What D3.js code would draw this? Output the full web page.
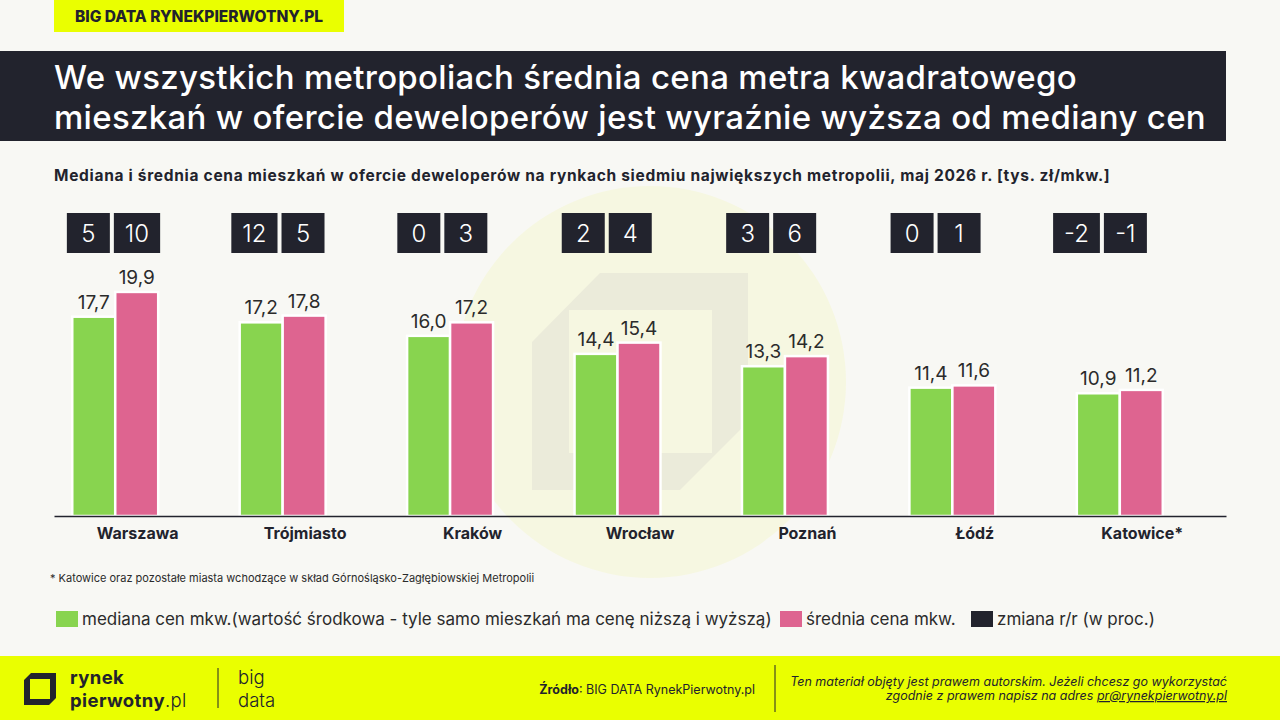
<!DOCTYPE html>
<html lang="pl">
<head>
  <meta charset="UTF-8">
  <style>
    html, body { margin: 0; padding: 0; background: #f8f8f4; }
    svg { display: block; font-family: Inter, "Open Sans", sans-serif; }
  </style>
  <script src="https://d3js.org/d3.v7.min.js"></script>
</head>
<body>
  <svg id="chart" width="1280" height="720"></svg>

  <script>
    // data
    const cities = ["Warszawa", "Trójmiasto", "Kraków", "Wrocław", "Poznań", "Łódź", "Katowice*"];
    const medianPrice = [17.7, 17.2, 16.0, 14.4, 13.3, 11.4, 10.9];
    const meanPrice = [19.9, 17.8, 17.2, 15.4, 14.2, 11.6, 11.2];
    const changeMedian = [5, 12, 0, 2, 3, 0, -2];
    const changeMean = [10, 5, 3, 4, 6, 1, -1];
    const legendLabels = [
      "mediana cen mkw.(wartość środkowa - tyle samo mieszkań ma cenę niższą i wyższą)",
      "średnia cena mkw.",
      "zmiana r/r (w proc.)"
    ];

    const GREEN = "#88d44f", PINK = "#de6490", DARK = "#22232d", YELLOW = "#eaff00", TXT = "#2b2b2b";

    const svg = d3.select("#chart");
    const fmt = v => d3.format(".1f")(v).replace(".", ",");

    svg.append("rect").attr("width", 1280).attr("height", 720).attr("fill", "#f8f8f4");

    // watermark circle + logo
    const wm = svg.append("g");
    wm.append("circle").attr("cx", 650).attr("cy", 382).attr("r", 196).attr("fill", "#f6f7e1");
    wm.append("path")
      .attr("d", "M600,273 L748,273 L748,422 L680,490 L532,490 L532,342 Z")
      .attr("fill", "#ebebda");
    wm.append("rect").attr("x", 569).attr("y", 310).attr("width", 143).attr("height", 143).attr("fill", "#f6f7e1");

    // top tag
    svg.append("rect").attr("x", 54).attr("y", 0).attr("width", 290).attr("height", 32).attr("fill", YELLOW);
    svg.append("text").attr("x", 199).attr("y", 21.5).attr("text-anchor", "middle")
      .attr("font-size", 15.5).attr("font-weight", 800).attr("fill", DARK)
      .text("BIG DATA RYNEKPIERWOTNY.PL");

    // title block
    svg.append("rect").attr("x", 0).attr("y", 51).attr("width", 1226).attr("height", 90).attr("fill", DARK);
    const title = svg.append("text").attr("font-size", 33).attr("font-weight", 500).attr("fill", "#fff")
      .attr("letter-spacing", 0.3);
    title.append("tspan").attr("x", 54).attr("y", 89).text("We wszystkich metropoliach średnia cena metra kwadratowego");
    title.append("tspan").attr("x", 54).attr("y", 129).text("mieszkań w ofercie deweloperów jest wyraźnie wyższa od mediany cen");

    svg.append("text").attr("x", 54).attr("y", 181).attr("font-size", 15.5).attr("font-weight", 700).attr("fill", DARK)
      .attr("letter-spacing", 0.7)
      .text("Mediana i średnia cena mieszkań w ofercie deweloperów na rynkach siedmiu największych metropolii, maj 2026 r. [tys. zł/mkw.]");

    // scales
    const x0 = d3.scaleBand().domain(cities).range([54, 1226]).paddingInner(0.23).paddingOuter(0.115);
    const x1 = d3.scaleBand().domain(["mediana", "srednia", "zmiana"]).range([0, x0.bandwidth()]);
    const y = d3.scaleLinear().domain([0, 25]).range([516, 234.5]);
    const xBox = d3.scalePoint().domain(cities).range([113.5, 1100]);

    const rows = cities.map((c, i) => ({
      city: c, mediana: medianPrice[i], srednia: meanPrice[i],
      chM: changeMedian[i], chS: changeMean[i]
    }));

    const groups = svg.append("g").selectAll("g").data(rows).join("g")
      .attr("transform", d => `translate(${x0(d.city)},0)`);

    [["mediana", GREEN], ["srednia", PINK]].forEach(([key, col]) => {
      groups.append("rect")
        .attr("x", x1(key) - 1)
        .attr("y", d => y(d[key]))
        .attr("width", x1.bandwidth())
        .attr("height", d => y(0) - y(d[key]))
        .attr("fill", col)
        .attr("stroke", "#fff")
        .attr("stroke-width", 2.5);
      groups.append("text")
        .attr("x", x1(key) + x1.bandwidth() / 2 - 1)
        .attr("y", d => y(d[key]) - 8)
        .attr("text-anchor", "middle")
        .attr("font-size", 19)
        .attr("fill", TXT)
        .text(d => fmt(d[key]));
    });

    // axis line + category labels
    const xAxis = svg.append("g").attr("transform", `translate(0,${y(0)})`)
      .call(d3.axisBottom(x0).tickSize(0).tickPadding(12));
    xAxis.select(".domain").attr("stroke", DARK).attr("stroke-width", 1.3);
    xAxis.selectAll("text").attr("font-size", 16).attr("font-weight", 700).attr("fill", DARK)
      .attr("font-family", "Inter, sans-serif");

    // change boxes
    const boxes = svg.append("g").selectAll("g").data(rows).join("g");
    boxes.each(function(d) {
      const g = d3.select(this);
      const vals = [d.chM, d.chS];
      const ts = vals.map(v => g.append("text")
        .attr("font-size", 24).attr("font-weight", 300).attr("fill", "#fff")
        .attr("text-anchor", "middle").text(String(v)));
      const ws = ts.map(t => Math.max(43, t.node().getBBox().width + 22));
      const total = ws[0] + ws[1] + 4;
      let xs = xBox(d.city) - total / 2;
      ts.forEach((t, k) => {
        g.insert("rect", "text").attr("x", xs).attr("y", 213).attr("width", ws[k]).attr("height", 40).attr("fill", DARK);
        t.attr("x", xs + ws[k] / 2).attr("y", 242);
        xs += ws[k] + 4;
      });
    });

    // footnote
    svg.append("text").attr("x", 50).attr("y", 582).attr("font-size", 11).attr("fill", TXT)
      .text("* Katowice oraz pozostałe miasta wchodzące w skład Górnośląsko-Zagłębiowskiej Metropolii");

    // legend
    const legendCols = [GREEN, PINK, DARK];
    const legendX = [56, 780, 971];
    const lg = svg.append("g").selectAll("g").data(legendLabels).join("g")
      .attr("transform", (d, i) => `translate(${legendX[i]},611)`);
    lg.append("rect").attr("width", 22).attr("height", 16).attr("fill", (d, i) => legendCols[i]);
    lg.append("text").attr("x", 26).attr("y", 14).attr("font-size", 17).attr("fill", TXT).text(d => d);

    // footer
    svg.append("rect").attr("x", 0).attr("y", 656).attr("width", 1280).attr("height", 64).attr("fill", YELLOW);
    svg.append("path")
      .attr("d", "M31,673 L56,673 L56,698 L49,705 L24,705 L24,680 Z M30,679 L30,699 L50,699 L50,679 Z")
      .attr("fill", DARK).attr("fill-rule", "evenodd");
    const logo = svg.append("text").attr("font-size", 18.5).attr("fill", DARK).attr("letter-spacing", 0.4);
    logo.append("tspan").attr("x", 70).attr("y", 684).attr("font-weight", 700).text("rynek");
    logo.append("tspan").attr("x", 70).attr("y", 707).attr("font-weight", 700).text("pierwotny");
    logo.append("tspan").attr("font-weight", 300).text(".pl");
    svg.append("line").attr("x1", 218).attr("x2", 218).attr("y1", 668).attr("y2", 708).attr("stroke", DARK).attr("stroke-width", 1);
    const bd = svg.append("text").attr("font-size", 18.5).attr("font-weight", 300).attr("fill", DARK);
    bd.append("tspan").attr("x", 238).attr("y", 684).text("big");
    bd.append("tspan").attr("x", 238).attr("y", 707).text("data");

    const src = svg.append("text").attr("x", 755).attr("y", 694).attr("text-anchor", "end").attr("font-size", 12.5).attr("fill", DARK);
    src.append("tspan").attr("font-weight", 700).text("Źródło");
    src.append("tspan").text(": BIG DATA RynekPierwotny.pl");
    svg.append("line").attr("x1", 775).attr("x2", 775).attr("y1", 665).attr("y2", 712).attr("stroke", DARK).attr("stroke-width", 1);
    const cp = svg.append("text").attr("text-anchor", "end").attr("font-size", 12.5).attr("font-style", "italic").attr("fill", DARK);
    cp.append("tspan").attr("x", 1227).attr("y", 686).text("Ten materiał objęty jest prawem autorskim. Jeżeli chcesz go wykorzystać");
    const l2 = svg.append("text").attr("x", 1227).attr("y", 700).attr("text-anchor", "end").attr("font-size", 12.5)
      .attr("font-style", "italic").attr("fill", DARK);
    l2.append("tspan").text("zgodnie z prawem napisz na adres ");
    l2.append("tspan").attr("text-decoration", "underline").text("pr@rynekpierwotny.pl");
  </script>
</body>
</html>
